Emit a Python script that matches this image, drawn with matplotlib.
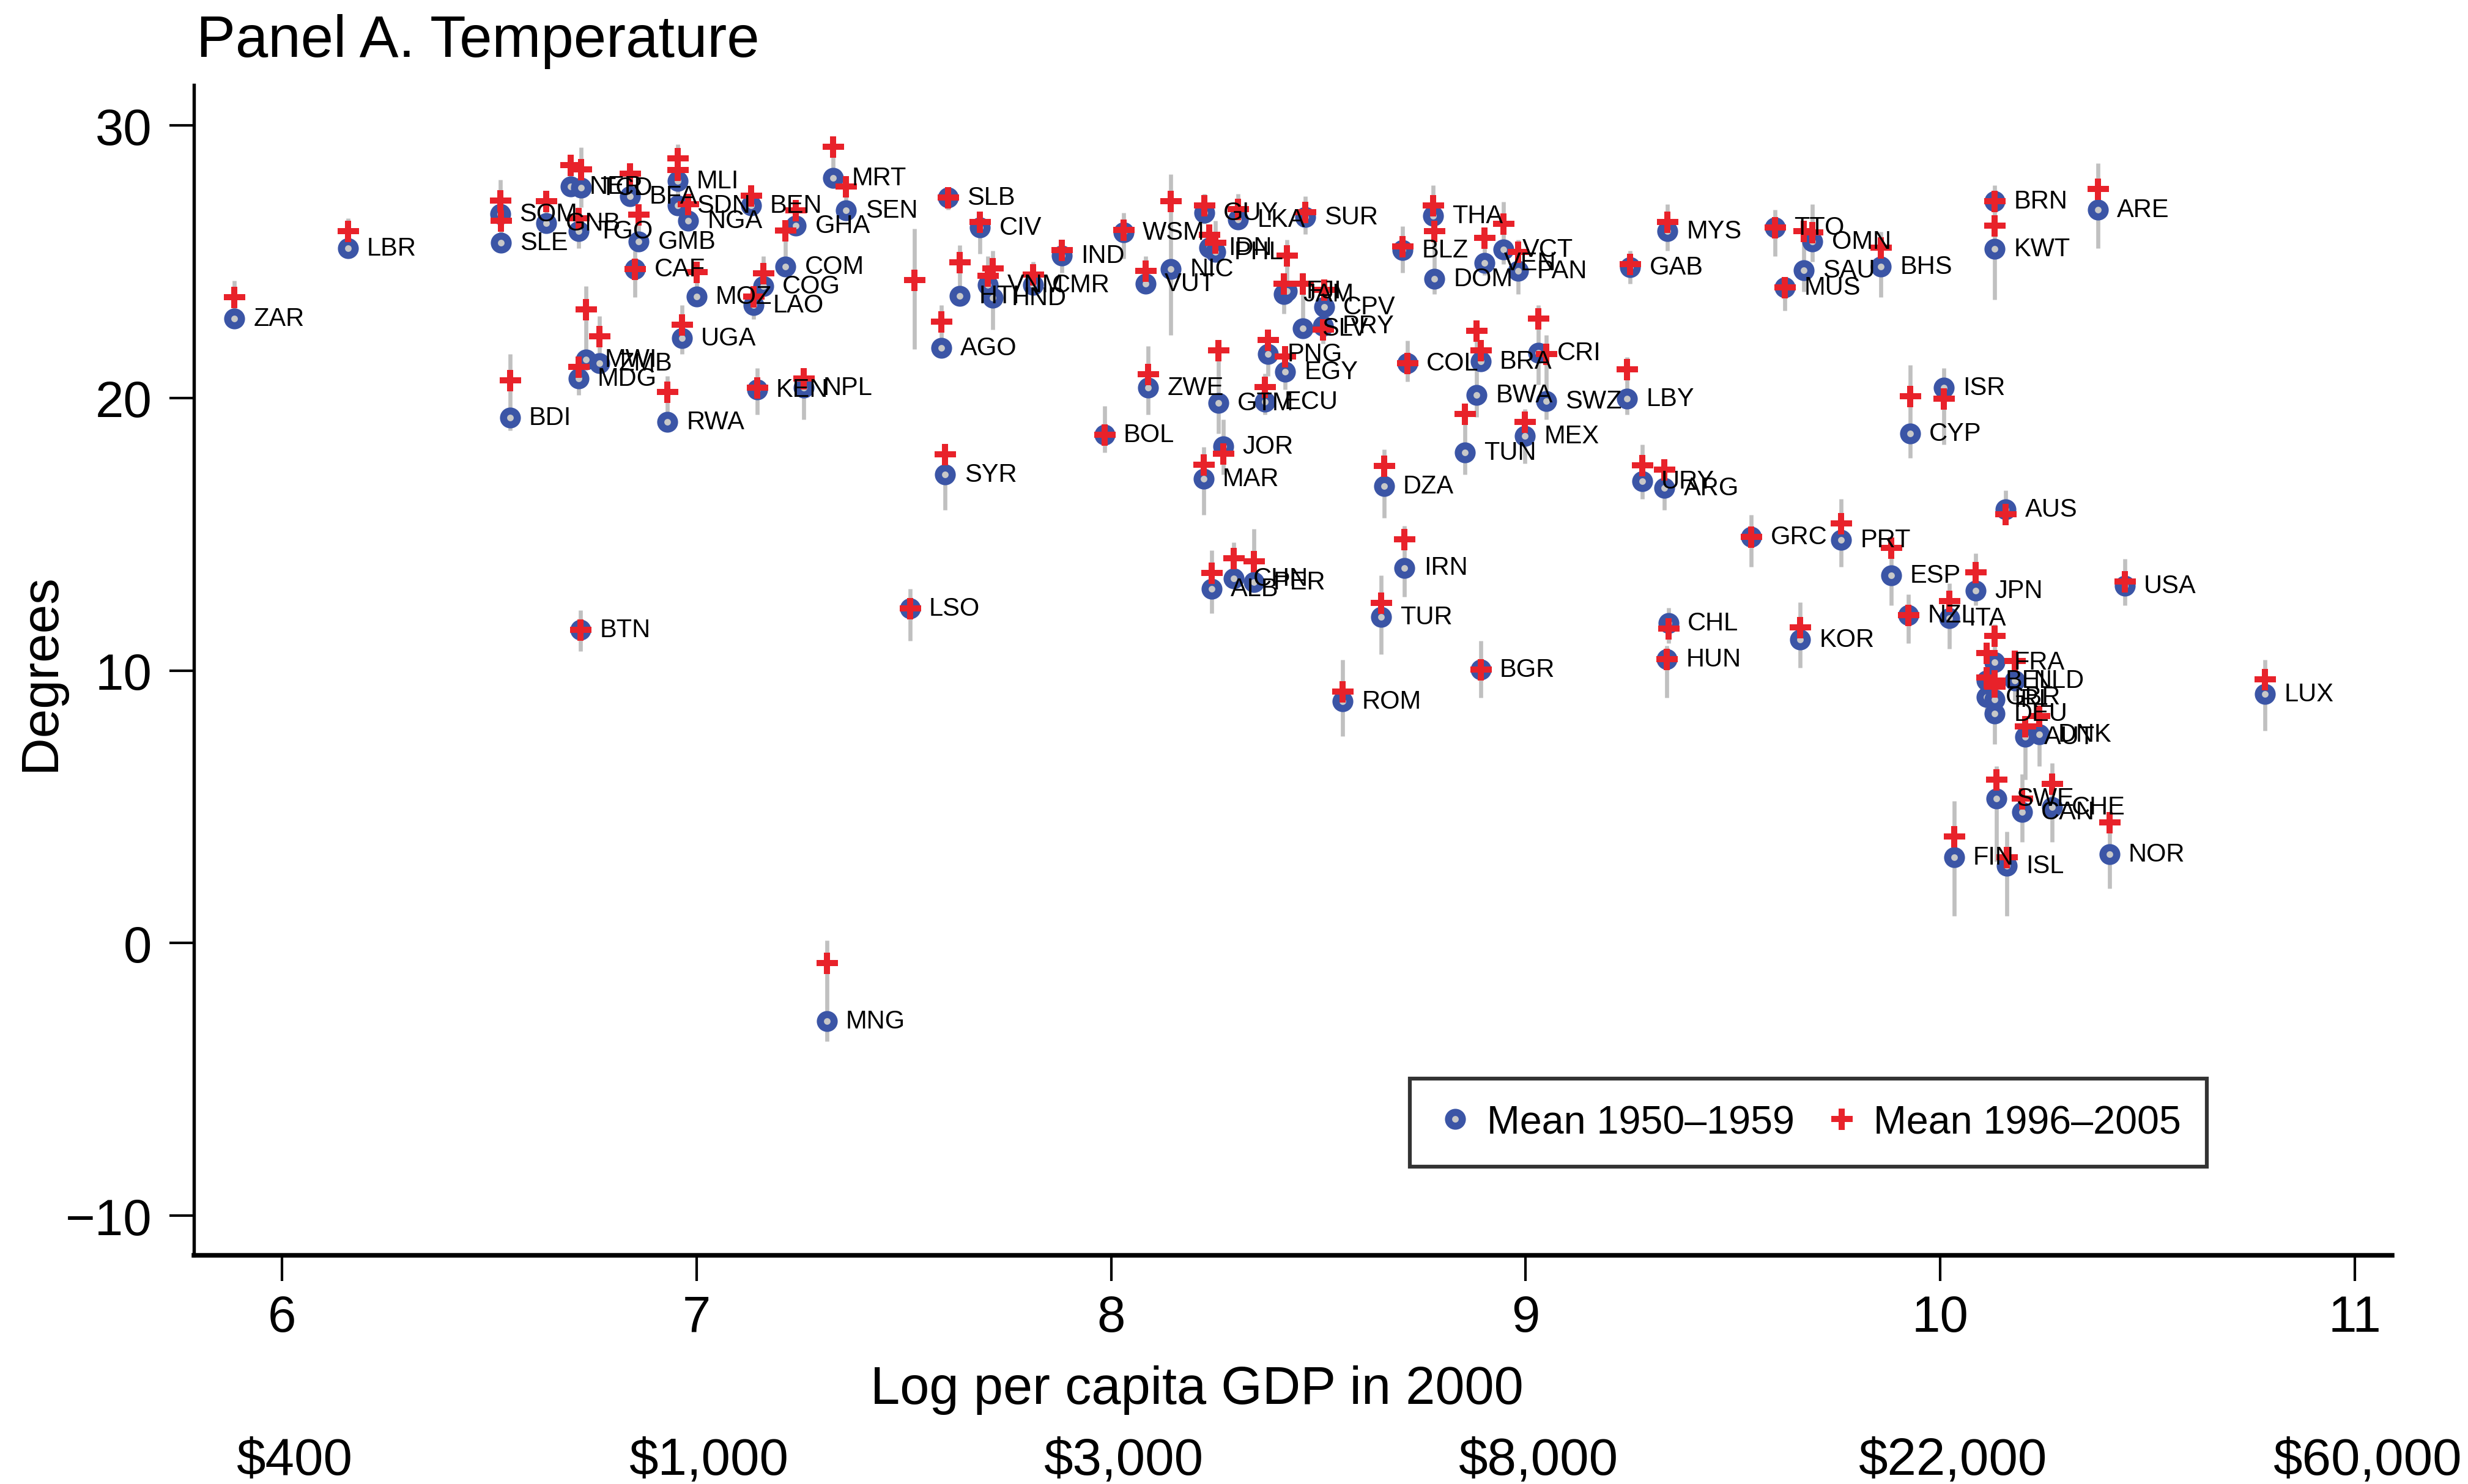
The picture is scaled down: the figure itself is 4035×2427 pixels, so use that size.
import numpy as np
import matplotlib
matplotlib.use('Agg')
import matplotlib.pyplot as plt
from matplotlib.lines import Line2D
import matplotlib.transforms as mtransforms

plt.rcParams['font.family'] = ['Liberation Sans', 'DejaVu Sans']

# country codes ('' = decade mean for 1950s missing, no label)
codes = ['ZAR', 'LBR', 'SOM', 'SLE', 'GNB', 'NER', 'TCD', 'BFA', 'TGO', 'GMB', 'CAF', 'MWI', 'ZMB', 'MDG', 'BDI', 'RWA',
         'MLI', 'SDN', 'NGA', 'BEN', 'GHA', 'COM', 'MRT', 'SEN', 'MOZ', 'COG', 'LAO', 'UGA', 'KEN', 'NPL', 'SLB', 'CIV', '',
         'AGO', 'HTI', 'VNM', 'HND', 'CMR', 'IND', 'WSM', 'VUT', 'NIC', 'BOL', 'ZWE', 'SYR',
         'GUY', 'LKA', 'SUR', 'IDN', 'PHL', 'JAM', 'FJI', 'CPV', 'SLV', 'PRY', 'PNG', 'EGY', 'GTM', 'ECU', 'JOR', 'MAR',
         'COL', 'BRA', 'BWA', 'TUN', 'MEX', 'CRI', 'SWZ', 'BLZ', 'THA', 'DOM', 'VCT', 'VEN', 'PAN', 'GAB', 'LBY', 'DZA',
         'ALB', 'CHN', 'PER', 'IRN', 'TUR', 'ROM', 'BGR',
         'URY', 'ARG', 'GRC', 'PRT', 'ESP', 'JPN', 'AUS', 'CHL', 'HUN', 'KOR', 'NZL', 'ITA', 'USA', 'LUX',
         'FRA', 'BEL', 'NLD', 'GBR', 'IRL', 'DEU', 'AUT', 'DNK', 'SWE', 'CAN', 'CHE', 'FIN', 'ISL', 'NOR',
         'MYS', 'TTO', 'OMN', 'SAU', 'MUS', 'BHS', 'BRN', 'KWT', 'ARE', 'ISR', 'CYP',
         'BTN', 'LSO', 'MNG']

log_gdp = [5.885, 6.159, 6.527, 6.528, 6.638, 6.696, 6.722, 6.840, 6.715, 6.861, 6.852, 6.733, 6.766, 6.715, 6.550, 6.930,
           6.954, 6.954, 6.980, 7.131, 7.240, 7.215, 7.329, 7.361, 7.000, 7.161, 7.138, 6.965, 7.146, 7.259, 7.607, 7.684, 7.525,
           7.590, 7.635, 7.703, 7.714, 7.812, 7.881, 8.030, 8.083, 8.144, 7.984, 8.089, 7.600,
           8.225, 8.306, 8.468, 8.236, 8.251, 8.417, 8.424, 8.514, 8.462, 8.511, 8.379, 8.420, 8.259, 8.371, 8.270, 8.223,
           8.714, 8.891, 8.882, 8.853, 8.998, 9.030, 9.050, 8.703, 8.776, 8.780, 8.946, 8.901, 8.981, 9.252, 9.245, 8.658,
           8.242, 8.296, 8.345, 8.708, 8.651, 8.559, 8.891,
           9.281, 9.335, 9.544, 9.761, 9.881, 10.085, 10.158, 9.344, 9.340, 9.662, 9.923, 10.021, 10.445, 10.783,
           10.131, 10.111, 10.179, 10.111, 10.131, 10.131, 10.204, 10.238, 10.136, 10.197, 10.270, 10.033, 10.160, 10.408,
           9.342, 9.601, 9.692, 9.670, 9.625, 9.857, 10.131, 10.131, 10.380, 10.009, 9.927,
           6.720, 7.515, 7.314]

temp_1950s = [22.92, 25.49, 26.75, 25.69, 26.42, 27.75, 27.71, 27.41, 26.12, 25.73, 24.74, 21.41, 21.27, 20.71, 19.27, 19.12,
              27.96, 27.06, 26.50, 27.06, 26.32, 24.81, 28.07, 26.89, 23.71, 24.10, 23.41, 22.19, 20.32, 20.37, 27.36, 26.25, np.nan,
              21.83, 23.74, 24.14, 23.67, 24.14, 25.22, 26.08, 24.19, 24.74, 18.65, 20.37, 17.19,
              26.80, 26.55, 26.63, 25.52, 25.35, 23.80, 23.93, 23.33, 22.56, 22.64, 21.61, 20.97, 19.81, 19.85, 18.22, 17.03,
              21.27, 21.35, 20.11, 18.00, 18.61, 21.65, 19.89, 25.43, 26.68, 24.36, 25.45, 24.96, 24.66, 24.79, 19.98, 16.77,
              12.99, 13.38, 13.25, 13.77, 11.96, 8.87, 10.03,
              16.95, 16.70, 14.91, 14.78, 13.48, 12.93, 15.91, 11.73, 10.42, 11.13, 12.03, 11.91, 13.10, 9.13,
              10.31, 9.62, 9.62, 9.02, 8.93, 8.41, 7.56, 7.65, 5.29, 4.81, 4.99, 3.14, 2.84, 3.27,
              26.12, 26.25, 25.73, 24.68, 24.06, 24.81, 27.21, 25.46, 26.91, 20.37, 18.69,
              11.49, 12.27, -2.86]

temp_2000s = [23.69, 26.12, 27.25, 26.50, 27.21, 28.55, 28.39, 28.22, 26.59, 26.72, 24.74, 23.24, 22.27, 21.14, 20.64, 20.21,
              28.78, 28.37, 27.10, 27.42, 26.89, 26.14, 29.21, 27.75, 24.62, 24.57, 23.71, 22.68, 20.37, 20.71, 27.36, 26.46, 24.32,
              22.79, 24.98, 24.49, 24.75, 24.53, 25.43, 26.16, 24.66, 27.23, 18.65, 20.88, 17.94,
              27.06, 26.93, 26.81, 25.99, 25.69, 24.19, 25.22, 23.97, 24.19, 22.51, 22.13, 21.53, 21.74, 20.41, 17.96, 17.54,
              21.27, 21.74, 22.47, 19.42, 19.12, 22.92, 21.61, 25.56, 27.06, 26.12, 26.40, 25.88, 25.35, 24.90, 21.05, 17.50,
              13.59, 14.11, 14.01, 14.81, 12.48, 9.22, 10.03,
              17.52, 17.37, 14.91, 15.39, 14.51, 13.61, 15.73, 11.53, 10.42, 11.58, 12.03, 12.54, 13.27, 9.67,
              11.27, 10.65, 10.35, 9.75, 9.41, 9.62, 7.95, 8.32, 5.99, 5.31, 5.85, 3.91, 3.14, 4.43,
              26.46, 26.25, 26.08, 26.12, 24.06, 25.52, 27.21, 26.32, 27.66, 19.98, 20.07,
              11.49, 12.27, -0.74]

# grey bars: range of decade means
range_lo = [22.9, 25.3, 26.5, 25.7, 26.2, 27.5, 27.0, 27.1, 25.5, 25.4, 23.7, 21.2, 21.0, 20.1, 18.8, 18.8,
            27.5, 26.8, 26.2, 26.8, 26.0, 24.5, 27.7, 26.6, 23.4, 23.8, 22.9, 21.6, 19.4, 19.2, 26.9, 25.3, 21.8,
            21.8, 23.5, 23.7, 22.5, 23.8, 24.6, 25.1, 23.9, 22.3, 18.0, 19.4, 15.9,
            26.4, 26.2, 26.0, 25.3, 25.1, 23.1, 23.6, 22.9, 22.2, 22.0, 20.8, 20.3, 18.7, 19.4, 17.2, 15.7,
            20.6, 21.2, 19.3, 17.2, 17.6, 20.5, 19.2, 24.6, 26.0, 23.8, 24.9, 24.5, 23.8, 24.2, 19.4, 15.6,
            12.1, 13.0, 12.9, 12.7, 10.6, 7.6, 9.0,
            16.3, 15.9, 13.8, 13.8, 12.4, 12.4, 15.4, 11.0, 9.0, 10.1, 11.0, 10.8, 12.4, 7.8,
            9.6, 9.0, 8.9, 8.3, 8.5, 7.3, 6.0, 6.5, 3.0, 3.7, 3.7, 1.0, 1.0, 2.0,
            25.4, 25.2, 25.0, 23.9, 23.2, 23.7, 26.5, 23.6, 25.5, 18.3, 17.8,
            10.7, 11.1, -3.6]

range_hi = [24.3, 26.6, 28.0, 26.8, 27.5, 28.8, 29.2, 28.5, 27.0, 27.0, 25.4, 24.1, 23.0, 21.4, 21.6, 20.8,
            29.3, 28.6, 27.4, 27.8, 27.2, 26.4, 28.9, 28.0, 24.9, 25.2, 24.0, 23.4, 21.1, 21.1, 27.6, 26.6, 26.2,
            23.4, 25.6, 25.2, 25.4, 25.0, 25.5, 26.8, 25.2, 28.2, 19.7, 21.9, 18.3,
            27.5, 27.5, 27.4, 26.3, 26.5, 24.3, 25.8, 24.3, 24.6, 23.2, 22.5, 21.9, 22.1, 20.9, 19.2, 18.2,
            22.1, 22.0, 22.8, 19.8, 19.6, 23.4, 22.3, 26.3, 27.8, 26.5, 27.2, 26.2, 25.8, 25.4, 21.5, 18.1,
            14.4, 14.7, 15.2, 15.3, 13.5, 10.4, 11.1,
            18.3, 17.7, 15.7, 16.3, 14.7, 14.3, 16.6, 12.3, 10.9, 12.5, 12.8, 13.2, 14.1, 10.4,
            11.7, 11.0, 10.7, 10.1, 9.8, 9.9, 8.3, 8.6, 6.5, 6.2, 6.6, 5.2, 4.1, 4.7,
            27.1, 26.9, 27.1, 26.3, 24.4, 26.1, 27.8, 26.6, 28.6, 21.1, 21.2,
            12.2, 13.0, 0.1]

xticks = [6, 7, 8, 9, 10, 11]
dollar_labels = ['\\$400', '\\$1,000', '\\$3,000', '\\$8,000', '\\$22,000', '\\$60,000']
yticks = [-10, 0, 10, 20, 30]

blue = '#3b55a6'
red = '#e8222a'
grey = '#c0c0c0'

fig = plt.figure(figsize=(13.45, 8.0933), dpi=300)
ax = fig.add_axes([0.0786, 0.154, 0.8907, 0.7883])

ax.vlines(log_gdp, range_lo, range_hi, color=grey, lw=1.6, zorder=1)
ax.plot(log_gdp, temp_1950s, 'o', ls='none', ms=5.4, mfc='#c8c8c8', mec=blue, mew=2.8, zorder=2)
ax.plot(log_gdp, temp_2000s, '+', ls='none', ms=8.4, mec=red, mew=2.4, zorder=3)

for c, x, y in zip(codes, log_gdp, temp_1950s):
    if c:
        ax.annotate(c, (x, y), xytext=(7.5, 0), textcoords='offset points',
                    va='center', ha='left', fontsize=10, zorder=4)

ax.set_xlim(5.788, 11.09)
ax.set_ylim(-11.46, 31.48)
ax.set_xticks(xticks)
ax.set_yticks(yticks)
ax.tick_params(axis='x', length=10, width=1.0, pad=5, labelsize=20)
ax.tick_params(axis='y', length=9.5, width=1.0, pad=7, labelsize=20)
ax.spines['top'].set_visible(False)
ax.spines['right'].set_visible(False)
ax.spines['left'].set_linewidth(1.3)
ax.spines['bottom'].set_linewidth(1.8)

fig.text(0.0795, 0.9617, 'Panel A. Temperature', fontsize=23, va='baseline', ha='left')
fig.text(0.0166, 0.547, 'Degrees', rotation=90, fontsize=20.5, va='center', ha='center')
fig.text(0.485, 0.0544, 'Log per capita GDP in 2000', fontsize=20.8, va='baseline', ha='center')

trans = mtransforms.blended_transform_factory(ax.transData, fig.transFigure)
for x, lab in zip(xticks, dollar_labels):
    ax.text(x + 0.03, 0.0065, lab, transform=trans, fontsize=20.5, ha='center', va='baseline')

handles = [Line2D([], [], marker='o', ls='none', ms=5.4, mfc='#c8c8c8', mec=blue, mew=2.8),
           Line2D([], [], marker='+', ls='none', ms=8.4, mec=red, mew=2.4)]
leg = ax.legend(handles, ['Mean 1950\u20131959', 'Mean 1996\u20132005'], ncol=2, loc='center',
                bbox_to_anchor=(0.7344, 0.1134), fontsize=15.5, frameon=True, fancybox=False,
                borderpad=0.65, handlelength=1.0, handletextpad=0.3, columnspacing=0.7)
leg.get_frame().set_edgecolor('black')
leg.get_frame().set_linewidth(1.5)

plt.savefig('out.png', dpi=300)
